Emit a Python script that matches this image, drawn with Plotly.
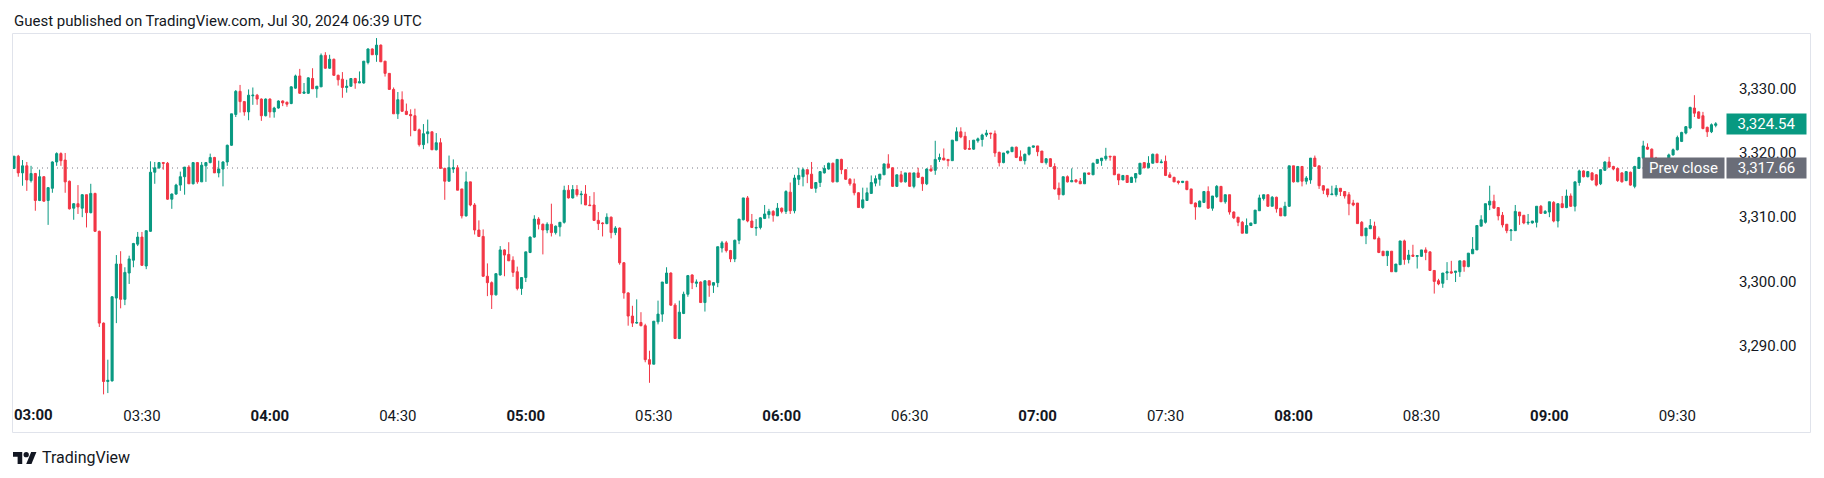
import plotly.graph_objects as go
import pandas as pd

# ---------------- data ----------------
start_time = "2024-07-30 03:00"

opens = [
    3317.6, 3319.5, 3316.9, 3318.0, 3315.7, 3316.8, 3312.6, 3316.3, 3312.6, 3314.5,
    3318.6, 3319.9, 3318.9, 3315.6, 3311.4, 3312.1, 3311.4, 3313.5, 3310.7, 3313.7,
    3307.8, 3293.5, 3284.4, 3284.5, 3297.4, 3302.7, 3297.2, 3301.3, 3303.3, 3305.8,
    3306.9, 3302.4, 3307.8, 3317.0, 3317.7, 3318.5, 3318.4, 3312.8, 3313.6, 3315.0,
    3316.3, 3317.8, 3315.2, 3318.5, 3315.5, 3318.0, 3318.5, 3319.3, 3316.9, 3317.5,
    3318.6, 3321.2, 3326.0, 3329.6, 3328.0, 3326.4, 3328.9, 3329.0, 3328.4, 3325.8,
    3328.4, 3326.4, 3327.0, 3328.1, 3327.9, 3327.7, 3330.1, 3332.0, 3329.3, 3329.3,
    3331.6, 3330.0, 3330.3, 3335.2, 3333.2, 3334.6, 3332.1, 3331.5, 3330.2, 3330.4,
    3331.6, 3330.9, 3330.9, 3334.1, 3336.2, 3335.3, 3336.8, 3334.3, 3332.4, 3329.9,
    3326.1, 3328.3, 3326.5, 3326.0, 3325.8, 3323.6, 3321.3, 3323.0, 3323.3, 3320.5,
    3321.6, 3317.6, 3315.6, 3317.5, 3317.7, 3314.4, 3310.2, 3315.5, 3311.9, 3308.0,
    3307.0, 3300.8, 3299.8, 3297.9, 3301.0, 3304.9, 3304.2, 3303.3, 3301.5, 3298.9,
    3300.6, 3304.5, 3306.9, 3309.7, 3308.9, 3308.0, 3308.9, 3307.6, 3308.5, 3309.2,
    3314.2, 3313.0, 3314.3, 3313.5, 3313.6, 3311.9, 3311.9, 3309.5, 3309.1, 3309.0,
    3310.0, 3307.6, 3308.3, 3302.9, 3298.2, 3294.6, 3293.5, 3293.6, 3293.1, 3287.8,
    3287.1, 3293.7, 3294.9, 3299.7, 3301.3, 3296.3, 3291.1, 3295.0, 3298.0, 3301.0,
    3299.7, 3299.9, 3296.7, 3300.1, 3299.4, 3299.8, 3305.2, 3306.0, 3304.8, 3303.5,
    3306.4, 3309.6, 3313.0, 3309.4, 3308.3, 3308.4, 3309.8, 3310.4, 3310.9, 3310.2,
    3311.4, 3310.9, 3313.9, 3311.0, 3315.9, 3316.3, 3317.4, 3316.7, 3314.5, 3315.4,
    3316.9, 3317.5, 3318.4, 3315.5, 3319.0, 3317.4, 3315.9, 3315.2, 3313.8, 3311.5,
    3312.6, 3313.7, 3315.3, 3315.9, 3316.6, 3318.3, 3317.7, 3314.8, 3316.6, 3315.5,
    3316.9, 3314.8, 3316.9, 3316.2, 3315.2, 3317.5, 3317.3, 3319.0, 3319.2, 3319.0,
    3318.8, 3321.9, 3323.3, 3322.6, 3320.7, 3320.6, 3321.9, 3322.1, 3322.8, 3323.1,
    3323.0, 3320.1, 3318.5, 3320.0, 3320.2, 3320.9, 3319.4, 3318.8, 3319.8, 3320.9,
    3321.1, 3320.3, 3318.5, 3319.1, 3317.9, 3314.5, 3313.5, 3316.3, 3315.5, 3315.8,
    3315.6, 3315.2, 3316.9, 3316.6, 3318.4, 3318.8, 3319.1, 3319.5, 3319.5, 3316.7,
    3315.8, 3316.5, 3315.4, 3316.1, 3316.7, 3318.5, 3317.7, 3318.4, 3319.8, 3318.5,
    3318.7, 3316.6, 3316.2, 3315.6, 3315.4, 3315.6, 3314.4, 3312.2, 3311.6, 3312.3,
    3314.0, 3311.4, 3313.2, 3314.8, 3312.4, 3313.5, 3310.8, 3310.0, 3309.2, 3307.5,
    3308.7, 3309.0, 3311.0, 3312.9, 3313.5, 3311.7, 3313.1, 3311.4, 3310.2, 3311.7,
    3318.0, 3315.5, 3317.9, 3315.6, 3315.8, 3319.2, 3318.0, 3314.9, 3314.4, 3313.5,
    3313.5, 3314.5, 3314.0, 3313.5, 3312.2, 3312.2, 3309.2, 3307.1, 3308.2, 3308.6,
    3306.7, 3304.7, 3304.0, 3304.7, 3301.5, 3302.6, 3306.3, 3303.4, 3304.1, 3303.9,
    3303.9, 3304.9, 3304.6, 3301.7, 3300.1, 3299.7, 3301.3, 3301.5, 3301.4, 3301.5,
    3303.2, 3302.3, 3304.3, 3304.9, 3308.6, 3309.2, 3311.9, 3312.5, 3311.5, 3310.3,
    3308.9, 3307.9, 3307.9, 3310.8, 3310.3, 3309.1, 3309.1, 3309.2, 3311.7, 3310.6,
    3310.8, 3312.3, 3309.4, 3312.1, 3311.5, 3313.3, 3311.7, 3315.4, 3317.2, 3316.3,
    3316.9, 3316.6, 3315.2, 3317.3, 3318.6, 3317.9, 3317.6, 3316.9, 3315.7, 3317.0,
    3314.8, 3317.6, 3319.2, 3320.9, 3320.6, 3319.2, 3318.3, 3318.7, 3319.2, 3319.7,
    3320.5, 3321.8, 3323.1, 3323.9, 3327.0, 3326.4, 3325.8, 3324.0, 3323.3, 3324.3,
]

highs = [
    3319.5, 3319.7, 3318.9, 3318.6, 3318.0, 3316.9, 3317.4, 3316.4, 3314.7, 3318.7,
    3320.1, 3320.1, 3320.0, 3315.7, 3312.2, 3315.0, 3313.6, 3313.5, 3315.2, 3313.8,
    3307.9, 3293.6, 3287.8, 3297.7, 3304.1, 3304.7, 3302.2, 3304.0, 3306.0, 3307.7,
    3307.7, 3307.9, 3318.7, 3318.6, 3318.6, 3318.6, 3318.6, 3313.7, 3315.2, 3317.1,
    3317.8, 3318.1, 3318.6, 3318.6, 3318.6, 3318.6, 3319.9, 3319.4, 3318.8, 3318.7,
    3321.3, 3326.1, 3329.8, 3330.6, 3328.1, 3329.9, 3330.2, 3329.2, 3328.5, 3328.5,
    3328.5, 3327.2, 3328.2, 3328.2, 3328.0, 3330.4, 3332.2, 3333.1, 3330.9, 3331.8,
    3333.2, 3330.4, 3335.5, 3335.7, 3335.3, 3334.7, 3332.2, 3332.6, 3331.4, 3331.6,
    3331.7, 3332.7, 3334.3, 3336.3, 3336.3, 3337.9, 3336.9, 3334.3, 3332.4, 3330.2,
    3329.5, 3329.6, 3327.7, 3326.8, 3326.9, 3323.8, 3324.5, 3325.2, 3323.3, 3323.1,
    3322.3, 3317.7, 3319.6, 3319.0, 3318.1, 3314.4, 3317.1, 3315.5, 3312.2, 3309.5,
    3308.1, 3302.8, 3300.0, 3301.2, 3305.5, 3305.0, 3306.1, 3303.9, 3302.3, 3300.6,
    3304.6, 3307.0, 3310.3, 3310.0, 3309.0, 3309.2, 3312.1, 3308.7, 3309.2, 3314.9,
    3315.0, 3315.0, 3315.0, 3314.1, 3315.0, 3313.3, 3313.9, 3310.8, 3309.2, 3310.6,
    3310.1, 3308.6, 3308.4, 3303.0, 3298.3, 3296.2, 3297.2, 3295.2, 3293.4, 3289.2,
    3293.8, 3297.0, 3299.9, 3302.2, 3301.4, 3296.6, 3297.0, 3298.4, 3301.0, 3301.1,
    3300.3, 3300.0, 3300.1, 3300.1, 3299.9, 3305.4, 3306.3, 3306.3, 3304.9, 3306.5,
    3309.7, 3313.0, 3313.3, 3310.5, 3309.7, 3310.0, 3311.9, 3311.3, 3311.1, 3312.2,
    3311.5, 3314.2, 3315.4, 3316.6, 3317.7, 3317.7, 3317.4, 3318.6, 3315.4, 3317.1,
    3318.1, 3318.5, 3318.5, 3319.0, 3319.1, 3317.4, 3316.1, 3316.0, 3313.9, 3314.6,
    3314.6, 3316.5, 3316.5, 3316.7, 3318.3, 3319.8, 3317.7, 3316.6, 3317.2, 3316.9,
    3316.9, 3316.9, 3317.7, 3316.3, 3317.6, 3318.1, 3321.9, 3319.9, 3320.7, 3319.0,
    3322.0, 3324.0, 3324.0, 3323.3, 3322.0, 3322.0, 3322.4, 3323.0, 3323.6, 3323.1,
    3323.5, 3320.2, 3320.0, 3320.3, 3320.9, 3321.0, 3320.4, 3319.9, 3320.9, 3321.1,
    3321.1, 3320.3, 3319.2, 3319.2, 3318.4, 3315.4, 3316.3, 3316.5, 3317.6, 3315.9,
    3316.1, 3316.9, 3316.9, 3318.5, 3319.0, 3319.2, 3320.8, 3319.5, 3319.5, 3316.7,
    3316.5, 3316.5, 3316.3, 3316.8, 3318.4, 3318.5, 3319.5, 3319.9, 3319.9, 3319.0,
    3319.6, 3317.0, 3316.3, 3315.7, 3315.6, 3315.6, 3314.4, 3312.3, 3312.6, 3314.0,
    3314.8, 3313.3, 3315.0, 3314.8, 3313.5, 3313.5, 3310.9, 3310.0, 3309.4, 3309.8,
    3309.1, 3311.1, 3313.5, 3313.5, 3313.5, 3313.3, 3313.2, 3311.4, 3312.4, 3318.0,
    3318.0, 3317.9, 3317.9, 3316.4, 3319.2, 3319.6, 3318.0, 3315.0, 3314.4, 3314.9,
    3315.0, 3314.5, 3314.0, 3313.9, 3312.7, 3312.2, 3309.4, 3308.3, 3309.7, 3309.3,
    3307.0, 3304.7, 3304.7, 3304.7, 3302.7, 3306.3, 3306.5, 3304.9, 3305.7, 3304.0,
    3304.9, 3305.3, 3304.6, 3301.7, 3300.4, 3301.3, 3303.0, 3303.2, 3301.6, 3303.2,
    3303.2, 3304.4, 3306.9, 3308.7, 3310.3, 3312.1, 3314.9, 3313.5, 3311.5, 3310.8,
    3308.9, 3308.1, 3311.9, 3310.8, 3310.3, 3310.5, 3309.4, 3311.7, 3311.9, 3311.1,
    3312.4, 3312.5, 3312.1, 3313.3, 3314.3, 3313.7, 3315.5, 3317.4, 3317.3, 3317.2,
    3317.0, 3316.7, 3317.4, 3318.7, 3319.4, 3318.0, 3317.7, 3317.0, 3317.1, 3317.1,
    3318.0, 3319.4, 3321.9, 3321.5, 3320.7, 3319.4, 3318.9, 3319.0, 3319.9, 3320.7,
    3322.7, 3323.3, 3324.2, 3327.2, 3329.0, 3326.5, 3326.4, 3324.1, 3324.6, 3324.8,
]

lows = [
    3317.5, 3316.3, 3314.9, 3314.1, 3315.4, 3311.0, 3312.5, 3312.4, 3308.8, 3313.8,
    3318.0, 3318.0, 3313.8, 3311.2, 3309.6, 3310.5, 3310.0, 3308.4, 3310.6, 3307.7,
    3292.9, 3282.4, 3282.6, 3284.4, 3293.5, 3295.8, 3296.3, 3299.6, 3302.2, 3305.5,
    3302.4, 3301.9, 3307.7, 3315.2, 3317.5, 3317.4, 3312.7, 3311.3, 3313.5, 3314.1,
    3313.5, 3315.2, 3315.1, 3315.2, 3315.5, 3315.5, 3318.4, 3316.9, 3316.2, 3314.8,
    3318.0, 3321.1, 3325.6, 3326.3, 3325.8, 3325.1, 3327.5, 3327.5, 3325.0, 3325.7,
    3325.5, 3325.5, 3326.9, 3327.3, 3327.2, 3327.6, 3330.0, 3329.2, 3329.2, 3329.2,
    3330.0, 3328.6, 3330.3, 3333.1, 3333.1, 3332.0, 3330.5, 3328.6, 3329.4, 3330.3,
    3330.0, 3330.9, 3330.8, 3333.8, 3335.3, 3334.2, 3334.2, 3331.9, 3329.9, 3326.1,
    3325.3, 3326.4, 3325.9, 3322.6, 3323.4, 3321.0, 3320.6, 3321.5, 3320.5, 3320.4,
    3317.5, 3312.7, 3315.6, 3316.9, 3314.2, 3309.8, 3310.1, 3311.7, 3307.3, 3307.0,
    3300.7, 3297.7, 3295.7, 3297.8, 3300.9, 3300.8, 3303.2, 3300.7, 3298.6, 3297.9,
    3299.9, 3304.4, 3306.8, 3308.1, 3304.2, 3307.5, 3307.0, 3307.3, 3307.0, 3309.0,
    3312.9, 3312.9, 3313.2, 3312.0, 3311.9, 3311.8, 3309.4, 3308.0, 3307.0, 3308.9,
    3306.7, 3307.2, 3302.6, 3297.3, 3293.1, 3292.9, 3293.4, 3293.0, 3287.4, 3284.2,
    3287.1, 3293.3, 3293.7, 3299.6, 3296.2, 3291.1, 3291.0, 3294.9, 3297.6, 3298.8,
    3299.1, 3296.7, 3295.3, 3297.6, 3298.2, 3299.1, 3304.5, 3304.5, 3303.0, 3303.0,
    3305.8, 3309.5, 3309.2, 3308.3, 3307.1, 3308.1, 3309.7, 3309.8, 3309.3, 3310.2,
    3310.6, 3310.5, 3310.5, 3310.6, 3315.0, 3314.8, 3315.3, 3314.4, 3313.8, 3314.7,
    3316.8, 3317.4, 3315.4, 3315.5, 3316.7, 3315.8, 3314.9, 3313.4, 3311.5, 3311.3,
    3312.6, 3313.7, 3314.8, 3314.9, 3316.6, 3317.6, 3314.7, 3314.7, 3315.4, 3315.4,
    3314.7, 3314.5, 3316.1, 3314.1, 3315.0, 3317.1, 3316.6, 3318.6, 3318.9, 3317.9,
    3318.8, 3321.9, 3322.3, 3320.5, 3320.5, 3320.5, 3321.6, 3321.0, 3322.5, 3322.2,
    3319.4, 3317.9, 3318.4, 3319.8, 3320.2, 3319.2, 3318.8, 3318.2, 3319.6, 3320.8,
    3319.5, 3318.5, 3318.2, 3317.8, 3314.3, 3312.7, 3313.4, 3315.4, 3315.5, 3315.4,
    3315.2, 3315.2, 3316.6, 3316.6, 3318.3, 3318.0, 3318.8, 3318.8, 3316.6, 3315.0,
    3315.8, 3315.4, 3315.4, 3315.4, 3316.7, 3317.6, 3317.6, 3318.4, 3318.5, 3318.4,
    3316.4, 3316.1, 3315.5, 3315.1, 3315.3, 3314.2, 3312.1, 3309.6, 3311.6, 3312.2,
    3311.3, 3311.0, 3313.0, 3312.4, 3312.1, 3310.4, 3309.7, 3308.6, 3307.5, 3307.5,
    3308.7, 3309.0, 3311.0, 3312.6, 3311.6, 3311.7, 3310.7, 3310.2, 3310.2, 3311.6,
    3315.4, 3315.5, 3314.8, 3315.1, 3315.2, 3317.9, 3314.4, 3313.6, 3313.1, 3313.5,
    3313.2, 3313.3, 3312.9, 3310.3, 3311.7, 3309.0, 3307.1, 3305.8, 3308.2, 3306.6,
    3304.4, 3304.0, 3302.4, 3301.5, 3301.5, 3302.6, 3302.6, 3302.8, 3303.8, 3302.0,
    3303.8, 3303.3, 3301.7, 3298.1, 3299.4, 3299.0, 3300.2, 3301.2, 3299.9, 3300.7,
    3301.5, 3302.2, 3304.3, 3304.9, 3308.6, 3309.0, 3311.1, 3311.4, 3309.5, 3308.4,
    3307.5, 3306.3, 3307.9, 3308.8, 3308.9, 3308.8, 3309.0, 3308.4, 3310.5, 3310.5,
    3310.0, 3309.2, 3308.4, 3311.4, 3311.4, 3311.6, 3310.9, 3314.9, 3316.2, 3316.2,
    3315.7, 3314.8, 3315.0, 3317.2, 3317.7, 3317.3, 3315.5, 3315.4, 3315.6, 3314.9,
    3314.5, 3317.5, 3319.0, 3320.5, 3319.1, 3318.0, 3317.9, 3318.0, 3319.0, 3319.6,
    3320.4, 3321.7, 3322.9, 3323.7, 3325.6, 3325.3, 3323.7, 3322.5, 3323.1, 3324.0,
]

closes = [
    3319.5, 3316.9, 3318.0, 3315.8, 3316.8, 3312.6, 3316.3, 3312.5, 3314.6, 3318.6,
    3319.9, 3318.8, 3315.5, 3311.3, 3312.1, 3311.6, 3313.5, 3310.7, 3313.7, 3307.8,
    3293.5, 3284.4, 3284.6, 3297.6, 3302.7, 3297.2, 3301.4, 3303.5, 3305.9, 3306.9,
    3302.5, 3307.9, 3317.0, 3317.7, 3318.5, 3318.4, 3312.8, 3313.6, 3315.0, 3316.3,
    3317.8, 3315.2, 3318.5, 3315.5, 3318.1, 3318.5, 3319.3, 3316.9, 3317.5, 3318.6,
    3321.2, 3326.1, 3329.6, 3328.0, 3326.4, 3329.0, 3329.0, 3328.4, 3325.8, 3328.4,
    3326.4, 3327.0, 3328.1, 3327.8, 3327.6, 3330.3, 3332.0, 3329.3, 3329.5, 3331.7,
    3330.0, 3330.4, 3335.2, 3333.2, 3334.6, 3332.1, 3331.4, 3330.2, 3330.4, 3331.6,
    3330.9, 3331.1, 3334.3, 3336.2, 3335.3, 3336.8, 3334.2, 3332.4, 3329.9, 3326.1,
    3328.3, 3326.5, 3326.0, 3325.8, 3323.5, 3321.3, 3323.0, 3323.3, 3320.5, 3321.6,
    3317.6, 3315.6, 3317.7, 3317.7, 3314.2, 3310.2, 3315.5, 3311.9, 3308.0, 3307.0,
    3300.8, 3299.8, 3297.9, 3301.2, 3304.9, 3304.1, 3303.2, 3301.4, 3298.9, 3300.6,
    3304.6, 3306.9, 3309.7, 3308.9, 3308.0, 3308.9, 3307.6, 3308.6, 3309.2, 3314.2,
    3313.0, 3314.3, 3313.5, 3313.6, 3311.9, 3311.8, 3309.5, 3309.0, 3309.0, 3310.0,
    3307.6, 3308.3, 3302.9, 3298.2, 3294.6, 3293.5, 3293.6, 3293.1, 3287.8, 3287.1,
    3293.8, 3294.9, 3299.9, 3301.3, 3296.3, 3291.1, 3295.2, 3298.0, 3300.9, 3299.8,
    3299.9, 3296.7, 3300.1, 3299.4, 3299.8, 3305.4, 3306.0, 3304.8, 3303.5, 3306.4,
    3309.7, 3313.0, 3309.4, 3308.4, 3308.4, 3309.9, 3310.5, 3310.9, 3310.3, 3311.4,
    3310.9, 3314.0, 3311.0, 3316.1, 3316.5, 3317.4, 3316.7, 3314.5, 3315.4, 3317.1,
    3317.6, 3318.4, 3315.5, 3319.0, 3317.4, 3315.9, 3315.2, 3313.8, 3311.5, 3312.7,
    3313.8, 3315.4, 3316.0, 3316.7, 3318.3, 3317.7, 3314.8, 3316.6, 3315.5, 3316.9,
    3314.8, 3316.9, 3316.2, 3315.2, 3317.5, 3317.2, 3319.0, 3319.3, 3318.9, 3318.8,
    3322.0, 3323.3, 3322.5, 3320.6, 3320.6, 3322.0, 3322.2, 3322.8, 3323.1, 3323.0,
    3320.0, 3318.5, 3320.0, 3320.3, 3320.9, 3319.3, 3318.8, 3319.8, 3320.9, 3321.1,
    3320.2, 3318.5, 3319.1, 3317.9, 3314.4, 3313.5, 3316.3, 3315.5, 3315.7, 3315.5,
    3315.2, 3316.9, 3316.7, 3318.4, 3319.0, 3319.2, 3319.5, 3319.4, 3316.6, 3315.8,
    3316.5, 3315.4, 3316.2, 3316.8, 3318.4, 3317.7, 3318.4, 3319.8, 3318.5, 3318.6,
    3316.5, 3316.2, 3315.5, 3315.4, 3315.6, 3314.3, 3312.1, 3311.6, 3312.5, 3314.0,
    3311.4, 3313.3, 3314.8, 3312.4, 3313.5, 3310.8, 3309.9, 3309.2, 3307.5, 3308.7,
    3309.1, 3311.1, 3313.0, 3313.5, 3311.7, 3313.1, 3311.3, 3310.2, 3311.7, 3318.0,
    3315.5, 3317.9, 3315.6, 3316.1, 3319.2, 3317.9, 3314.9, 3314.2, 3313.5, 3313.6,
    3314.5, 3314.0, 3313.3, 3312.1, 3311.9, 3309.0, 3307.1, 3308.3, 3308.7, 3306.6,
    3304.5, 3304.0, 3304.7, 3301.5, 3302.7, 3306.3, 3303.4, 3304.1, 3303.9, 3304.0,
    3304.9, 3304.5, 3301.7, 3300.0, 3299.6, 3301.3, 3301.5, 3301.3, 3301.6, 3303.2,
    3302.3, 3304.4, 3305.0, 3308.7, 3309.6, 3312.1, 3312.5, 3311.4, 3310.2, 3308.8,
    3307.9, 3308.0, 3310.9, 3310.2, 3309.1, 3309.2, 3309.4, 3311.7, 3310.6, 3310.9,
    3312.4, 3309.4, 3312.1, 3311.5, 3313.3, 3311.7, 3315.5, 3317.2, 3316.3, 3317.1,
    3315.8, 3315.0, 3317.4, 3318.6, 3317.8, 3317.5, 3315.7, 3315.5, 3317.1, 3315.0,
    3317.9, 3319.3, 3321.1, 3320.6, 3319.2, 3318.3, 3318.7, 3318.5, 3319.7, 3320.5,
    3322.4, 3323.2, 3324.1, 3327.1, 3326.2, 3325.4, 3323.8, 3323.3, 3324.4, 3324.54,
]

prev_close = 3317.66
last_price = 3324.54
price_ticks = [3290, 3300, 3310, 3320, 3330]
time_ticks = ["03:00", "03:30", "04:00", "04:30", "05:00", "05:30", "06:00",
              "06:30", "07:00", "07:30", "08:00", "08:30", "09:00", "09:30"]
title_text = "Guest published on TradingView.com, Jul 30, 2024 06:39 UTC"
brand_text = "TradingView"

# ---------------- styling / geometry ----------------
W, H = 1824, 478
PL, PR, PT, PB = 12, 1725, 33, 400     # plot area (px)
UP, DOWN = "#089981", "#F23645"
TEXT = "#131722"
GRAYBOX = "#6A6D78"
FONT = "Roboto"
PX_PER_MIN = 4.265
FIRST_X = 14.0                          # px centre of first candle
PX_PER_UNIT = 6.42
PREV_PX = 168.0


def xp(px):
    return (px - PL) / (PR - PL)


def yp(py):
    return (PB - py) / (PB - PT)


def fmt_time(t):
    return f"<b>{t}</b>" if t.endswith(":00") else t


times = pd.date_range(start_time, periods=len(opens), freq="min")
t0 = pd.Timestamp(start_time)
x_left = t0 - pd.Timedelta(minutes=(FIRST_X - PL) / PX_PER_MIN)
x_right = t0 + pd.Timedelta(minutes=(PR - FIRST_X) / PX_PER_MIN)
y_top = prev_close + (PREV_PX - PT) / PX_PER_UNIT
y_bot = prev_close - (PB - PREV_PX) / PX_PER_UNIT

day = start_time.split(" ")[0]
# first label sits at the left frame edge, so it is drawn left-aligned as an annotation
tick_vals = [pd.Timestamp(f"{day} {t}") for t in time_ticks[1:]]
tick_text = [fmt_time(t) for t in time_ticks[1:]]

fig = go.Figure()
fig.add_trace(go.Candlestick(
    x=times, open=opens, high=highs, low=lows, close=closes,
    increasing=dict(line=dict(color=UP, width=1), fillcolor=UP),
    decreasing=dict(line=dict(color=DOWN, width=1), fillcolor=DOWN),
    whiskerwidth=0, hoverinfo="skip", showlegend=False,
))

shapes = []
# prev close dotted line
shapes.append(dict(type="line", xref="paper", yref="y", x0=0, x1=1,
                   y0=prev_close, y1=prev_close, layer="below",
                   line=dict(color="#787B86", width=1, dash="1px,4px")))
# outer frame
shapes.append(dict(type="rect", xref="paper", yref="paper",
                   x0=xp(12.5), x1=xp(1810.5), y0=yp(432.5), y1=yp(33.5),
                   line=dict(color="#E0E3EB", width=1), layer="above"))

# TradingView logo mark
s = 0.66
LOGO_CY = 458
ox, oy = 13.0, LOGO_CY - 13 * s


def logo_path(pts):
    parts = []
    for k, (ux, uy) in enumerate(pts):
        parts.append(("M" if k == 0 else "L") + f"{xp(ox + ux * s):.6f},{yp(oy + uy * s):.6f}")
    return " ".join(parts) + " Z"


shapes.append(dict(type="path", xref="paper", yref="paper",
                   path=logo_path([(14, 22), (7, 22), (7, 11), (0, 11), (0, 4), (14, 4)]),
                   fillcolor=TEXT, line=dict(width=0)))
shapes.append(dict(type="path", xref="paper", yref="paper",
                   path=logo_path([(28, 22), (20, 22), (27.5, 4), (35.5, 4)]),
                   fillcolor=TEXT, line=dict(width=0)))
shapes.append(dict(type="circle", xref="paper", yref="paper",
                   x0=xp(ox + 16 * s), x1=xp(ox + 24 * s),
                   y0=yp(oy + 12 * s), y1=yp(oy + 4 * s),
                   fillcolor=TEXT, line=dict(width=0)))

annotations = [
    dict(text=title_text, xref="paper", yref="paper", x=xp(12), y=yp(21),
         xanchor="left", yanchor="middle", showarrow=False,
         font=dict(family=FONT, size=15, color=TEXT)),
    dict(text=brand_text, xref="paper", yref="paper", x=xp(40), y=yp(458),
         xanchor="left", yanchor="middle", showarrow=False,
         font=dict(family=FONT, size=16, color=TEXT)),
    # first time label, kept inside the frame
    dict(text=fmt_time(time_ticks[0]), xref="paper", yref="paper", x=xp(12), y=yp(415),
         xanchor="left", yanchor="middle", showarrow=False,
         font=dict(family=FONT, size=15, color=TEXT)),
    # Prev close label
    dict(text="Prev close", xref="paper", yref="y", x=xp(1642), y=prev_close,
         xanchor="left", yanchor="middle", showarrow=False, width=81, height=20,
         bgcolor=GRAYBOX, borderpad=0, font=dict(family=FONT, size=15, color="white")),
    dict(text=f"{prev_close:,.2f}", xref="paper", yref="y", x=xp(1726), y=prev_close,
         xanchor="left", yanchor="middle", showarrow=False, width=79, height=20,
         bgcolor=GRAYBOX, borderpad=0, font=dict(family=FONT, size=15, color="white")),
    # last price label
    dict(text=f"{last_price:,.2f}", xref="paper", yref="y", x=xp(1726), y=last_price,
         xanchor="left", yanchor="middle", showarrow=False, width=79, height=20,
         bgcolor=UP, borderpad=0, font=dict(family=FONT, size=15, color="white")),
]

fig.update_layout(
    width=W, height=H,
    margin=dict(l=PL, r=W - PR, t=PT, b=H - PB, pad=0, autoexpand=False),
    paper_bgcolor="white", plot_bgcolor="white",
    showlegend=False,
    shapes=shapes, annotations=annotations,
    xaxis=dict(type="date", range=[x_left, x_right], rangeslider=dict(visible=False),
               tickmode="array", tickvals=tick_vals, ticktext=tick_text,
               showgrid=False, zeroline=False, showline=False, ticks="",
               ticklabelstandoff=5, automargin=False,
               tickfont=dict(family=FONT, size=15, color=TEXT)),
    yaxis=dict(side="right", range=[y_bot, y_top], tickmode="array",
               tickvals=price_ticks, tickformat=",.2f", automargin=False,
               showgrid=False, zeroline=False, showline=False, ticks="",
               ticklabelstandoff=13,
               tickfont=dict(family=FONT, size=15, color=TEXT)),
)

fig.write_html("out.html")
